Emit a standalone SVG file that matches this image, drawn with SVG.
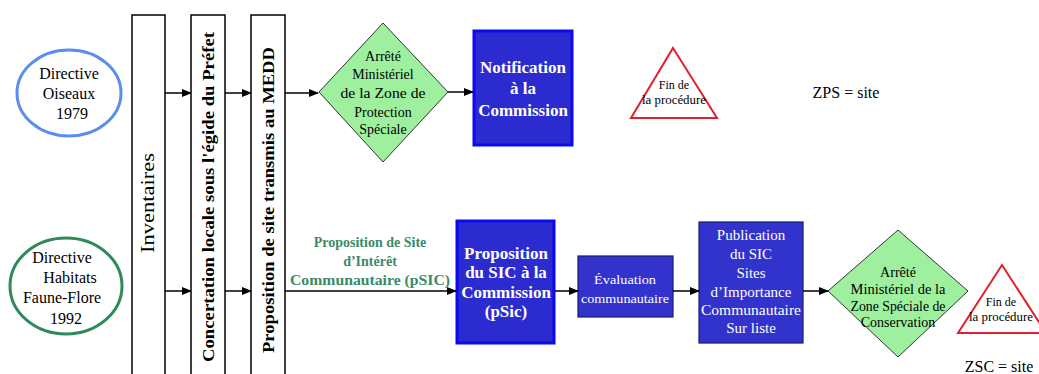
<svg xmlns="http://www.w3.org/2000/svg" width="1039" height="374" viewBox="0 0 1039 374" font-family="Liberation Serif, DejaVu Serif, serif">
<style>
text{font-family:'Liberation Serif','DejaVu Serif',serif;text-anchor:middle;dominant-baseline:central}
.bar{fill:#fff;stroke:#000;stroke-width:1.5}
.dia{fill:#9ef09e;stroke:#333;stroke-width:1}
.box{fill:#3232cc;stroke:#1a1a70;stroke-width:1.2}
.wb{fill:#fff;font-weight:bold}
.w{fill:#fff}
.tri{fill:#fff;stroke:#e0202a;stroke-width:2}
.c{stroke:#000;stroke-width:1.5;fill:none;marker-end:url(#ah)}
</style>
<defs>
<marker id="ah" markerWidth="10" markerHeight="8" refX="9" refY="4" orient="auto" markerUnits="userSpaceOnUse">
<path d="M0,0 L10,4 L0,8 z" fill="#000"/>
</marker>
</defs>
<rect width="1039" height="374" fill="#fff"/>

<g id="directive-oiseaux">
<ellipse cx="69" cy="93" rx="52" ry="43" fill="#fff" stroke="#5b8def" stroke-width="3"/>
<text x="69" y="73" font-size="16">Directive</text>
<text x="69" y="93" font-size="16">Oiseaux</text>
<text x="72" y="113" font-size="16">1979</text>
</g>
<g id="directive-habitats">
<ellipse cx="66" cy="286" rx="56" ry="48" fill="#fff" stroke="#2e8a5a" stroke-width="3"/>
<text x="62" y="257" font-size="16">Directive</text>
<text x="70" y="277" font-size="16">Habitats</text>
<text x="62" y="297" font-size="16">Faune-Flore</text>
<text x="66" y="318" font-size="16">1992</text>
</g>

<g id="inventaires">
<rect class="bar" x="132" y="15" width="33" height="370"/>
<text transform="translate(148,203) rotate(-90)" font-size="18" textLength="100" lengthAdjust="spacingAndGlyphs">Inventaires</text>
</g>
<g id="concertation">
<rect class="bar" x="191" y="15" width="34" height="370"/>
<text transform="translate(208,197) rotate(-90)" font-size="17" font-weight="bold" textLength="330" lengthAdjust="spacingAndGlyphs">Concertation locale sous l'égide du Préfet</text>
</g>
<g id="proposition-medd">
<rect class="bar" x="251" y="15" width="34" height="370"/>
<text transform="translate(268,200) rotate(-90)" font-size="17" font-weight="bold" textLength="306" lengthAdjust="spacingAndGlyphs">Proposition de site transmis au MEDD</text>
</g>

<g id="arrete-zps">
<polygon class="dia" points="319,92 383,23 448,92 383,162"/>
<text x="383" y="56" font-size="14">Arrêté</text>
<text x="383" y="74" font-size="14">Ministériel</text>
<text x="383" y="93" font-size="14" textLength="85" lengthAdjust="spacingAndGlyphs">de la Zone de</text>
<text x="383" y="112" font-size="14">Protection</text>
<text x="383" y="129" font-size="14">Spéciale</text>
</g>
<g id="notification">
<rect x="474" y="31" width="98" height="114" fill="#2b2bd0" stroke="#0a0af0" stroke-width="3"/>
<text class="wb" x="523" y="67" font-size="17">Notification</text>
<text class="wb" x="523" y="88" font-size="17">à la</text>
<text class="wb" x="523" y="110" font-size="17">Commission</text>
</g>
<g id="fin-1">
<polygon class="tri" points="673,48 717,118 631,118"/>
<text x="674" y="85" font-size="12">Fin de</text>
<text x="674" y="100" font-size="12" textLength="64" lengthAdjust="spacingAndGlyphs">la procédure</text>
</g>
<g id="zps">
<text x="846" y="92" font-size="16">ZPS = site</text>
</g>

<g id="psic-label">
<text x="370" y="242" font-size="14" font-weight="bold" fill="#3a8a66">Proposition de Site</text>
<text x="370" y="261" font-size="14" font-weight="bold" fill="#3a8a66">d’Intérêt</text>
<text x="370" y="280" font-size="14" font-weight="bold" fill="#3a8a66" textLength="160" lengthAdjust="spacingAndGlyphs">Communautaire (pSIC)</text>
</g>
<g id="proposition-sic">
<rect x="457" y="221" width="97" height="122" fill="#2b2bd0" stroke="#0a0af0" stroke-width="3"/>
<text class="wb" x="506" y="253" font-size="17">Proposition</text>
<text class="wb" x="506" y="272" font-size="17">du SIC à la</text>
<text class="wb" x="506" y="292" font-size="17">Commission</text>
<text class="wb" x="506" y="311" font-size="17">(pSic)</text>
</g>
<g id="evaluation">
<rect class="box" x="578" y="256" width="95" height="61"/>
<text class="w" x="625" y="279" font-size="13" textLength="62" lengthAdjust="spacingAndGlyphs">Évaluation</text>
<text class="w" x="625" y="298" font-size="13" textLength="88" lengthAdjust="spacingAndGlyphs">communautaire</text>
</g>
<g id="publication">
<rect class="box" x="699" y="222" width="104" height="121"/>
<text class="w" x="751" y="235" font-size="15">Publication</text>
<text class="w" x="751" y="254" font-size="15">du SIC</text>
<text class="w" x="751" y="273" font-size="15">Sites</text>
<text class="w" x="751" y="292" font-size="15">d’Importance</text>
<text class="w" x="751" y="310" font-size="15" textLength="100" lengthAdjust="spacingAndGlyphs">Communautaire</text>
<text class="w" x="751" y="328" font-size="15">Sur liste</text>
</g>
<g id="arrete-zsc">
<polygon class="dia" points="828,291 898,230 968,291 898,357"/>
<text x="898" y="272" font-size="14">Arrêté</text>
<text x="898" y="289" font-size="14" textLength="95" lengthAdjust="spacingAndGlyphs">Ministériel de la</text>
<text x="898" y="306" font-size="14" textLength="95" lengthAdjust="spacingAndGlyphs">Zone Spéciale de</text>
<text x="898" y="322" font-size="14">Conservation</text>
</g>
<g id="fin-2">
<polygon class="tri" points="1002,265 1046,333 958,333"/>
<text x="1001" y="302" font-size="12">Fin de</text>
<text x="1001" y="317" font-size="12" textLength="64" lengthAdjust="spacingAndGlyphs">la procédure</text>
</g>
<g id="zsc">
<text x="999" y="366" font-size="16">ZSC = site</text>
</g>

<g id="connectors">
<line class="c" x1="165" y1="93" x2="191" y2="93"/>
<line class="c" x1="225" y1="93" x2="251" y2="93"/>
<line class="c" x1="285" y1="93" x2="318" y2="93"/>
<line class="c" x1="448" y1="92" x2="473" y2="92"/>
<line class="c" x1="165" y1="291" x2="191" y2="291"/>
<line class="c" x1="225" y1="291" x2="251" y2="291"/>
<line class="c" x1="285" y1="291" x2="456" y2="291"/>
<line class="c" x1="555" y1="291" x2="578" y2="291"/>
<line class="c" x1="673" y1="291" x2="699" y2="291"/>
<line class="c" x1="803" y1="291" x2="828" y2="291"/>
</g>
</svg>
